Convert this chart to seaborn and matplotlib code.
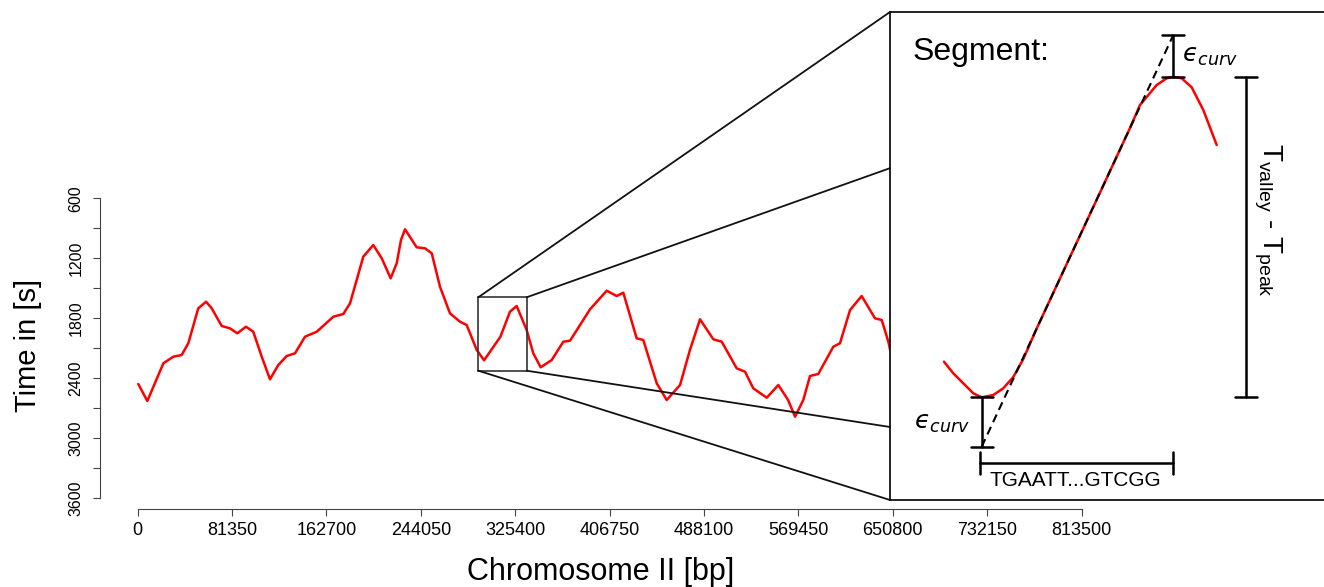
import numpy as np
import pandas as pd
import seaborn as sns
import matplotlib.pyplot as plt
from matplotlib.patches import Rectangle, ConnectionPatch

# replication timing along chromosome II
pos_bp = [500, 8300, 22100, 30700, 37900, 43600, 52200, 58900, 63800, 72400,
          79500, 85800, 93300, 99600, 106900, 114000, 121200, 128400, 135600, 144200,
          154300, 168600, 177200, 183000, 188700, 194400, 203000, 210300, 218000, 223200,
          226900, 230400, 240400, 247600, 253400, 260500, 269100, 277800, 283500, 292200,
          298500, 312600, 320800, 326600, 335200, 340900, 347300, 356800, 366800, 372600,
          389800, 404200, 412800, 418500, 430000, 435700, 447300, 455900, 467400, 475900,
          484600, 496100, 503300, 516200, 523400, 530500, 542100, 552100, 560500, 566500,
          573600, 579400, 586500, 599500, 605200, 613900, 623900, 635400, 641200, 646900,
          648500]
time_s = [2457, 2627, 2250, 2184, 2167, 2050, 1700, 1634, 1700, 1877,
          1900, 1950, 1884, 1934, 2184, 2410, 2267, 2177, 2150, 1984,
          1934, 1784, 1757, 1650, 1417, 1184, 1067, 1200, 1400, 1250,
          1017, 910, 1090, 1100, 1150, 1484, 1750, 1834, 1867, 2117,
          2220, 1984, 1734, 1677, 1917, 2150, 2290, 2217, 2034, 2024,
          1710, 1524, 1577, 1544, 2000, 2017, 2450, 2617, 2467, 2117,
          1810, 2010, 2034, 2300, 2334, 2500, 2594, 2467, 2617, 2784,
          2617, 2377, 2357, 2084, 2050, 1717, 1577, 1800, 1817, 2034,
          2120]

x_ticks = [0, 81350, 162700, 244050, 325400, 406750, 488100, 569450, 650800, 732150, 813500]
y_ticks = list(range(600, 3601, 300))

# zoomed region shown in the inset
zoom_x = (293500, 335200)
zoom_t = (1590, 2324)

# schematic segment inside the inset (inset units)
seg_x = [54, 63.3, 73.3, 83.3, 91.7, 103.3, 113.3, 123.3, 133.3, 146.7,
         163.3, 183.3, 203.3, 223.3, 240, 250, 266.7, 276.7, 283.3, 291.7,
         301.7, 313.3, 326.7]
seg_y = [349.7, 361.3, 371.3, 381.3, 385.3, 383, 376.3, 365, 347, 316.5,
         280.8, 237.8, 195, 152, 116, 93, 73, 66.3, 64.7, 66.3,
         75.3, 98, 133]
tan_x = [91.7, 283.3]
tan_y = [434.7, 23]

sns.set_style('ticks')
plt.rcParams['font.family'] = ['Liberation Sans', 'DejaVu Sans']
plt.rcParams['text.color'] = 'black'
plt.rcParams['xtick.labelcolor'] = 'black'
plt.rcParams['ytick.labelcolor'] = 'black'

W, H = 1324, 587
fig = plt.figure(figsize=(W / 100, H / 100), dpi=100)

def box(l, t, r, b):
    return [l / W, 1 - b / H, (r - l) / W, (b - t) / H]

ax = fig.add_axes(box(100, 190, 1100, 509))
df = pd.DataFrame({'pos': pos_bp, 'time': time_s})
sns.lineplot(data=df, x='pos', y='time', ax=ax, color='red', lw=1.8, sort=False)
ax.set_xlim(-32490, 829300)
ax.set_ylim(3707, 517)
ax.set_xlabel('')
ax.set_ylabel('')
ax.set_xticks(x_ticks)
ax.set_xticklabels([str(v) for v in x_ticks])
ax.set_yticks(y_ticks)
ax.set_yticklabels([str(v) if v % 600 == 0 else '' for v in y_ticks], rotation=90, va='center')
ax.tick_params(axis='x', labelsize=13, length=5, pad=4.5, color='#444', width=0.8)
ax.tick_params(axis='y', labelsize=11.5, length=5, pad=7, color='#444', width=0.8)
for s in ['top', 'right']:
    ax.spines[s].set_visible(False)
ax.spines['left'].set_bounds(600, 3600)
ax.spines['bottom'].set_bounds(0, 813500)
for s in ['left', 'bottom']:
    ax.spines[s].set_color('#444')
    ax.spines[s].set_linewidth(0.8)

ax.add_patch(Rectangle((zoom_x[0], zoom_t[0]), zoom_x[1] - zoom_x[0], zoom_t[1] - zoom_t[0],
                       fill=False, ec='#333', lw=1.2, zorder=3))

fig.text(28 / W, 1 - 345 / H, 'Time in [s]', rotation=90, fontsize=21, ha='center', va='center')
fig.text(601 / W, 1 - 572 / H, 'Chromosome II [bp]', fontsize=22, ha='center', va='center')

# inset
axins = fig.add_axes(box(890, 12, 1324, 500))
axins.set_xlim(0, 434)
axins.set_ylim(488, 0)
axins.set_xticks([])
axins.set_yticks([])
axins.spines['right'].set_visible(False)
for s in ['left', 'top', 'bottom']:
    axins.spines[s].set_color('#111')
    axins.spines[s].set_linewidth(1.3)

seg = pd.DataFrame({'x': seg_x, 'y': seg_y})
sns.lineplot(data=seg, x='x', y='y', ax=axins, color='red', lw=1.8, sort=False)
axins.plot(tan_x, tan_y, color='black', ls=(0, (4, 2.5)), lw=1.5)
axins.set_xlabel('')
axins.set_ylabel('')

i_peak = int(np.argmin(seg_y))
i_val = int(np.argmax(seg_y))
px, py = seg_x[i_peak], seg_y[i_peak]
vx, vy = seg_x[i_val], seg_y[i_val]

def vbar(x, y0, y1, cap=11):
    axins.plot([x, x], [y0, y1], color='black', lw=1.8)
    axins.plot([x - cap, x + cap], [y0, y0], color='black', lw=1.8)
    axins.plot([x - cap, x + cap], [y1, y1], color='black', lw=1.8)

vbar(px, tan_y[1], py)
vbar(vx, vy, tan_y[0])
vbar(356, py, vy)

# sequence bar
sy = 451.3
axins.plot([vx - 2, px], [sy, sy], color='black', lw=1.8)
axins.plot([vx - 2, vx - 2], [sy - 11, sy + 11], color='black', lw=1.8)
axins.plot([px, px], [sy - 11, sy + 11], color='black', lw=1.8)
axins.text(100, 468, 'TGAATT...GTCGG', fontsize=15, ha='left', va='center')

eps = '$\u03f5_{curv}$'
axins.text(292, 44, eps, fontsize=18, ha='left', va='center')
axins.text(80, 411, eps, fontsize=18, ha='right', va='center')
axins.text(378, 208, r'T$_{\mathregular{valley}}$ - T$_{\mathregular{peak}}$', fontsize=20,
           rotation=270, ha='center', va='center')
axins.text(23, 48, 'Segment:', fontsize=23, ha='left', va='baseline')

# connector lines from zoom box to inset
corners = [((zoom_x[0], zoom_t[0]), (0, 1)),
           ((zoom_x[1], zoom_t[0]), (0, 0.680)),
           ((zoom_x[1], zoom_t[1]), (0, 0.1496)),
           ((zoom_x[0], zoom_t[1]), (0, 0))]
for a, b in corners:
    con = ConnectionPatch(xyA=a, coordsA=ax.transData, xyB=b, coordsB=axins.transAxes,
                          color='#111', lw=1.3)
    fig.add_artist(con)

fig.savefig('out.png', dpi=100)
